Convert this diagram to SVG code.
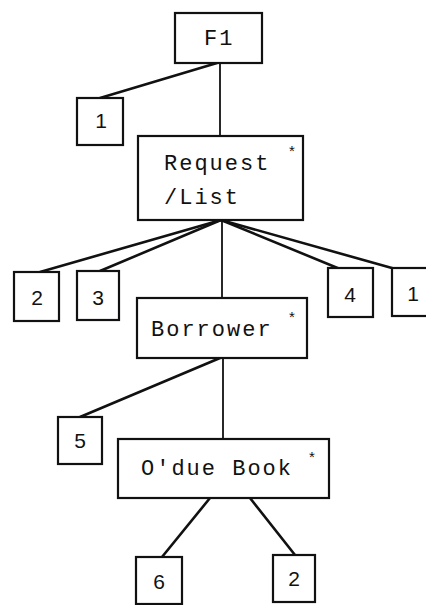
<svg xmlns="http://www.w3.org/2000/svg" width="426" height="605" viewBox="0 0 426 605">
<style>
.box{fill:#fff;stroke:#111;stroke-width:2.2}
.ln{stroke:#111;stroke-width:2.6;fill:none;stroke-linecap:round}
.vl{stroke:#111;stroke-width:1.8;fill:none}
.t{font-family:"Liberation Mono","DejaVu Sans Mono",monospace;font-size:22px;letter-spacing:2px;fill:#111}
.n{font-family:"Liberation Sans","DejaVu Sans",sans-serif;font-size:21px;fill:#111;text-anchor:middle}
.s{font-family:"Liberation Sans","DejaVu Sans",sans-serif;font-size:15px;fill:#111;text-anchor:middle}
</style>
<rect width="426" height="605" fill="#fff"/>
<g id="connectors">
<line class="ln" x1="217" y1="63" x2="100" y2="98"/>
<line class="vl" x1="220" y1="63" x2="220" y2="136"/>
<line class="ln" x1="221" y1="220" x2="40" y2="272"/>
<line class="ln" x1="221" y1="220" x2="100" y2="271"/>
<line class="ln" x1="221" y1="220" x2="340" y2="269"/>
<line class="ln" x1="221" y1="220" x2="399" y2="270"/>
<line class="vl" x1="222" y1="220" x2="222" y2="298"/>
<line class="ln" x1="220" y1="358" x2="80" y2="417"/>
<line class="vl" x1="223" y1="358" x2="223" y2="439"/>
<line class="ln" x1="210" y1="498" x2="162" y2="557"/>
<line class="ln" x1="250" y1="498" x2="295" y2="555"/>
</g>
<g id="F1">
<rect class="box" x="175" y="13" width="87" height="50"/>
<text class="t" x="204" y="45">F1</text>
</g>
<g id="n1a">
<rect class="box" x="77" y="98" width="46" height="47"/>
<text class="n" x="101" y="128">1</text>
</g>
<g id="RequestList">
<rect class="box" x="138" y="136" width="165" height="84"/>
<text class="t" x="164" y="170">Request</text>
<text class="t" x="164" y="204">/List</text>
<text class="s" x="292" y="156">*</text>
</g>
<g id="n2a">
<rect class="box" x="14" y="272" width="45" height="49"/>
<text class="n" x="37" y="305">2</text>
</g>
<g id="n3">
<rect class="box" x="77" y="271" width="42" height="49"/>
<text class="n" x="98" y="305">3</text>
</g>
<g id="n4">
<rect class="box" x="328" y="268" width="45" height="49"/>
<text class="n" x="350" y="302">4</text>
</g>
<g id="n1b">
<rect class="box" x="392" y="268" width="50" height="48"/>
<text class="n" x="413" y="301">1</text>
</g>
<g id="Borrower">
<rect class="box" x="137" y="298" width="170" height="60"/>
<text class="t" x="151" y="336">Borrower</text>
<text class="s" x="292" y="322">*</text>
</g>
<g id="n5">
<rect class="box" x="58" y="417" width="44" height="47"/>
<text class="n" x="80" y="448">5</text>
</g>
<g id="ODueBook">
<rect class="box" x="118" y="439" width="211" height="59"/>
<text class="t" x="141" y="475">O'due Book</text>
<text class="s" x="312" y="462">*</text>
</g>
<g id="n6">
<rect class="box" x="136" y="557" width="46" height="47"/>
<text class="n" x="159" y="589">6</text>
</g>
<g id="n2b">
<rect class="box" x="273" y="555" width="42" height="47"/>
<text class="n" x="294" y="586">2</text>
</g>
</svg>
